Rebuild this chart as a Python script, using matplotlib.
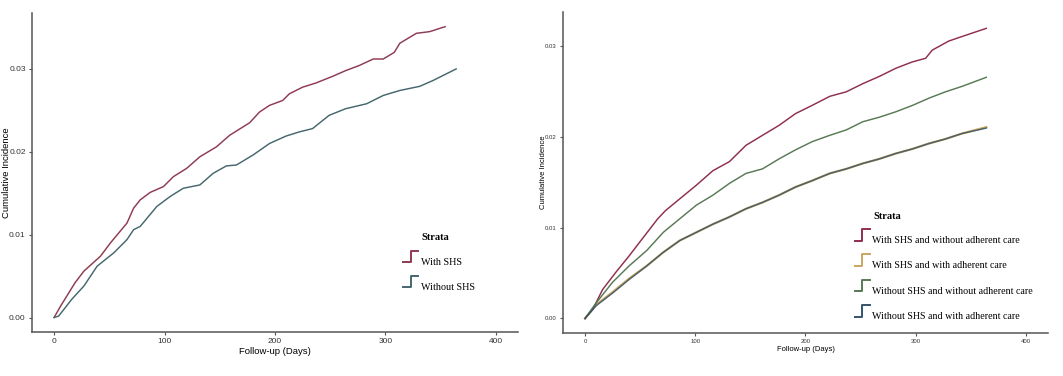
import matplotlib.pyplot as plt
from matplotlib.legend_handler import HandlerBase
from matplotlib.lines import Line2D

# left panel: cumulative incidence by SHS exposure
days_shs = [0, 6, 19, 27, 42, 51, 66, 72, 78, 87, 99, 108, 120, 132, 147, 159, 177,
            186, 195, 207, 213, 225, 237, 252, 264, 276, 289, 298, 308, 313, 328, 340, 354]
ci_shs = [0, 0.0014, 0.0042, 0.0056, 0.0074, 0.009, 0.0114, 0.0132, 0.0142, 0.0151,
          0.0158, 0.0170, 0.018, 0.0194, 0.0206, 0.022, 0.0235, 0.0248, 0.0256, 0.0262,
          0.027, 0.0278, 0.0283, 0.0291, 0.0298, 0.0304, 0.0312, 0.0312, 0.032, 0.0331,
          0.0343, 0.0345, 0.0351]
days_noshs = [0, 4, 9, 16, 27, 39, 54, 66, 72, 78, 93, 105, 117, 132, 144, 156, 165,
              180, 195, 210, 222, 234, 249, 264, 283, 298, 313, 331, 343, 364]
ci_noshs = [0, 0.00016, 0.001, 0.0022, 0.0038, 0.0062, 0.0078, 0.0094, 0.0106, 0.011,
            0.0134, 0.0146, 0.0156, 0.016, 0.0174, 0.0183, 0.0184, 0.0196, 0.021, 0.0219,
            0.0224, 0.0228, 0.0244, 0.0252, 0.0258, 0.0268, 0.0274, 0.0279, 0.0286, 0.03]

# right panel: SHS x adherent care
days4 = [0, 7, 16, 28, 40, 52, 66, 73, 86, 101, 116, 131, 146, 161, 176, 191, 206,
         222, 237, 252, 267, 282, 297, 309, 315, 330, 342, 364]
ci_shs_nonadh = [0, 0.001, 0.0032, 0.0051, 0.0069, 0.0088, 0.011, 0.0119, 0.0132, 0.0147,
                 0.0163, 0.0173, 0.0191, 0.0202, 0.0213, 0.0226, 0.0235, 0.0245, 0.025,
                 0.0259, 0.0267, 0.0276, 0.0283, 0.0287, 0.0296, 0.0306, 0.0311, 0.032]
days_b = [0, 10, 25, 40, 56, 71, 86, 101, 116, 131, 146, 161, 176, 191, 206, 222, 237,
          252, 267, 282, 297, 312, 327, 342, 364]
ci_shs_adh = [0, 0.0015, 0.0029, 0.0044, 0.0058, 0.0073, 0.0086, 0.0095, 0.0104, 0.0112,
              0.0121, 0.0128, 0.0136, 0.0145, 0.0152, 0.016, 0.0165, 0.0171, 0.0176,
              0.0182, 0.0187, 0.0193, 0.0198, 0.0204, 0.0211]
ci_noshs_nonadh = [0, 0.0017, 0.004, 0.0058, 0.0075, 0.0095, 0.011, 0.0125, 0.0136, 0.0149,
                   0.016, 0.0165, 0.0176, 0.0186, 0.0195, 0.0202, 0.0208, 0.0217, 0.0222,
                   0.0228, 0.0235, 0.0243, 0.025, 0.0256, 0.0266]
ci_noshs_adh = [0, 0.0014, 0.0028, 0.0043, 0.0058, 0.0073, 0.0086, 0.0095, 0.0104, 0.0112,
                0.0121, 0.0128, 0.0136, 0.0145, 0.0152, 0.016, 0.0165, 0.0171, 0.0176,
                0.0182, 0.0187, 0.0193, 0.0198, 0.0204, 0.021]

labels2 = ["With SHS", "Without SHS"]
labels4 = ["With SHS and without adherent care", "With SHS and with adherent care",
           "Without SHS and without adherent care", "Without SHS and with adherent care"]
colors2 = ["#8e3a52", "#45676f"]
colors4 = ["#8e2f4c", "#c9a661", "#587a55", "#34536a"]


class StepHandler(HandlerBase):
    # legend key drawn as a small step, like ggsurvplot
    def create_artists(self, legend, orig, xd, yd, w, h, fontsize, trans):
        x = [xd, xd + w * 0.5, xd + w * 0.5, xd + w]
        y = [yd, yd, yd + h, yd + h]
        ln = Line2D(x, y, color=orig.get_color(), lw=1.4, transform=trans)
        return [ln]


def style_axis(ax, tick_size, label_size, ylab_x):
    for s in ["top", "right"]:
        ax.spines[s].set_visible(False)
    for s in ["left", "bottom"]:
        ax.spines[s].set_color("#555555")
        ax.spines[s].set_linewidth(1.1)
    ax.tick_params(length=2.5, width=0.8, color="#555555", labelsize=tick_size,
                   labelcolor="#333333", pad=2)
    ax.set_xlim(-20, 420)
    ax.set_xticks([0, 100, 200, 300, 400])
    ax.set_xlabel("Follow-up (Days)", fontsize=label_size, labelpad=1)
    ax.set_ylabel("Cumulative Incidence", fontsize=label_size)
    ax.yaxis.set_label_coords(ylab_x, 0.5)


plt.rcParams["font.family"] = ["Liberation Sans", "DejaVu Sans"]
fig = plt.figure(figsize=(10.63, 3.76), dpi=100)

ax1 = fig.add_axes([0.0301, 0.117, 0.4572, 0.8484])
ax1.plot(days_shs, ci_shs, color=colors2[0], lw=1.05, label=labels2[0])
ax1.plot(days_noshs, ci_noshs, color=colors2[1], lw=1.05, label=labels2[1])
ax1.set_ylim(-0.00175, 0.03675)
ax1.set_yticks([0, 0.01, 0.02, 0.03])
ax1.set_yticklabels(["0.00", "0.01", "0.02", "0.03"])
style_axis(ax1, 6, 6.8, -0.043)
leg1 = ax1.legend(loc="upper left", bbox_to_anchor=(0.745, 0.268), frameon=False,
                  handler_map={Line2D: StepHandler()}, handlelength=1.5, handleheight=1.4,
                  handletextpad=0.25, labelspacing=1.3,
                  prop={"family": "Liberation Serif", "size": 7.3})
fig.text(421 / 1063, 1 - 238 / 376, "Strata", family="Liberation Serif", weight="bold",
         fontsize=7.5, va="center", ha="left")

ax2 = fig.add_axes([0.5296, 0.1144, 0.4563, 0.8536])
ax2.plot(days4, ci_shs_nonadh, color=colors4[0], lw=1.05, label=labels4[0], zorder=3)
ax2.plot(days_b, ci_shs_adh, color=colors4[1], lw=1.6, label=labels4[1], zorder=2)
ax2.plot(days_b, ci_noshs_nonadh, color=colors4[2], lw=1.05, label=labels4[2], zorder=3)
ax2.plot(days_b, ci_noshs_adh, color=colors4[3], lw=1.05, alpha=0.85, label=labels4[3],
         zorder=3)
ax2.set_ylim(-0.0016, 0.0338)
ax2.set_yticks([0, 0.01, 0.02, 0.03])
ax2.set_yticklabels(["0.00", "0.01", "0.02", "0.03"])
style_axis(ax2, 4.3, 5.5, -0.033)
leg2 = ax2.legend(loc="upper left", bbox_to_anchor=(0.583, 0.336), frameon=False,
                  handler_map={Line2D: StepHandler()}, handlelength=1.5, handleheight=1.4,
                  handletextpad=0.25, labelspacing=1.37,
                  prop={"family": "Liberation Serif", "size": 7.2})
fig.text(873 / 1063, 1 - 216 / 376, "Strata", family="Liberation Serif", weight="bold",
         fontsize=7.5, va="center", ha="left")

fig.savefig("out.png", dpi=100, facecolor="white")
